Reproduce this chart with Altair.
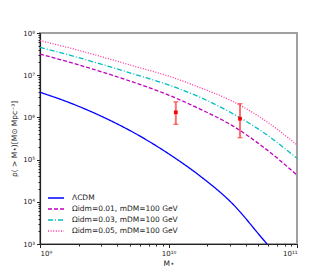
import altair as alt
import pandas as pd

# ---- data ----
models = ["ΛCDM", "Ωidm=0.01, mDM=100 GeV", "Ωidm=0.03, mDM=100 GeV", "Ωidm=0.05, mDM=100 GeV"]
colors = ["#0000ff", "#bf00bf", "#00bfbf", "#ff3399"]
dashes = [[1, 0], [4, 2], [5, 2, 1, 2], [1, 1.6]]

m_lcdm = [1e9, 1.78e9, 3.16e9, 5.62e9, 1e10, 1.78e10, 3.16e10, 5.62e10, 5.85e10]
rho_lcdm = [3.94e6, 2.11e6, 9.9e5, 4.03e5, 1.38e5, 3.98e4, 8.9e3, 1.15e3, 1.0e3]

m_grid = [1e9, 1.78e9, 3.16e9, 5.62e9, 1e10, 1.78e10, 3.16e10, 5.62e10, 1e11]
rho_001 = [3.16e7, 1.95e7, 1.15e7, 6.46e6, 3.39e6, 1.55e6, 6.3e5, 1.86e5, 4.3e4]
rho_003 = [4.57e7, 2.88e7, 1.74e7, 1.02e7, 5.89e6, 2.95e6, 1.23e6, 4.17e5, 1.07e5]
rho_005 = [6.6e7, 4.27e7, 2.63e7, 1.58e7, 9.55e6, 5.0e6, 2.4e6, 8.5e5, 2.24e5]

obs_m = [1.14e10, 3.6e10]
obs_rho = [1.32e6, 9.3e5]
obs_lo = [6.85e5, 3.3e5]
obs_hi = [2.34e6, 2.11e6]

x_major = [1e9, 1e10, 1e11]
x_labels = ["10⁹", "10¹⁰", "10¹¹"]
y_major = [1e3, 1e4, 1e5, 1e6, 1e7, 1e8]
y_labels = ["10³", "10⁴", "10⁵", "10⁶", "10⁷", "10⁸"]
x_minor = [k * d for d in [1e9, 1e10] for k in range(2, 10)]
y_minor = [k * d for d in [1e3, 1e4, 1e5, 1e6, 1e7] for k in range(2, 10)]

# ---- tables ----
rows = []
for m, r in zip(m_lcdm, rho_lcdm):
    rows.append({"M": m, "rho": r, "model": models[0]})
for series, name in zip([rho_001, rho_003, rho_005], models[1:]):
    for m, r in zip(m_grid, series):
        rows.append({"M": m, "rho": r, "model": name})
lines_df = pd.DataFrame(rows)
obs_df = pd.DataFrame({"M": obs_m, "rho": obs_rho, "lo": obs_lo, "hi": obs_hi})

def label_expr(vals, labels):
    expr = "''"
    for v, l in zip(vals[::-1], labels[::-1]):
        expr = f"datum.value == {v!r} ? '{l}' : " + expr
    return expr

def major_test(vals):
    return "indexof([" + ",".join(repr(v) for v in vals) + "], datum.value) >= 0"

xscale = alt.Scale(type="log", domain=[1e9, 1e11], nice=False)
yscale = alt.Scale(type="log", domain=[1e3, 1e8], nice=False)

xaxis = alt.Axis(
    title="M⋆", values=x_major + x_minor, labelExpr=label_expr(x_major, x_labels),
    tickSize={"condition": {"test": major_test(x_major), "value": 3.5}, "value": 2},
    labelOverlap=False, grid=False, titlePadding=3,
)
yaxis = alt.Axis(
    title="ρ( > M⋆)[M⊙ Mpc⁻³]", values=y_major + y_minor, labelExpr=label_expr(y_major, y_labels),
    tickSize={"condition": {"test": major_test(y_major), "value": 3.5}, "value": 2},
    labelOverlap=False, grid=False, titlePadding=4,
)

legend = alt.Legend(
    title=None, orient="none", legendX=10, legendY=159, padding=0,
    symbolType="M-1.6,0H1.6", symbolSize=100, symbolStrokeWidth=1.5,
    labelFontSize=7.5, labelOffset=10, rowPadding=1,
)

lines = alt.Chart(lines_df).mark_line(strokeWidth=1.3, interpolate="monotone", clip=True).encode(
    x=alt.X("M:Q", scale=xscale, axis=xaxis),
    y=alt.Y("rho:Q", scale=yscale, axis=yaxis),
    color=alt.Color("model:N", scale=alt.Scale(domain=models, range=colors), legend=legend),
    strokeDash=alt.StrokeDash("model:N", scale=alt.Scale(domain=models, range=dashes), legend=legend),
)

bars = alt.Chart(obs_df).mark_rule(color="#ff3333", opacity=0.7, strokeWidth=2).encode(
    x=alt.X("M:Q", scale=xscale), y=alt.Y("lo:Q", scale=yscale), y2="hi:Q"
)
cap_lo = alt.Chart(obs_df).mark_tick(color="#ff3333", opacity=0.7, orient="horizontal", size=5, thickness=1.3).encode(
    x=alt.X("M:Q", scale=xscale), y=alt.Y("lo:Q", scale=yscale)
)
cap_hi = alt.Chart(obs_df).mark_tick(color="#ff3333", opacity=0.7, orient="horizontal", size=5, thickness=1.3).encode(
    x=alt.X("M:Q", scale=xscale), y=alt.Y("hi:Q", scale=yscale)
)
pts = alt.Chart(obs_df).mark_square(color="#ff0000", size=14, opacity=1).encode(
    x=alt.X("M:Q", scale=xscale), y=alt.Y("rho:Q", scale=yscale)
)

chart = alt.layer(lines, bars, cap_lo, cap_hi, pts).properties(
    width=257, height=211,
    autosize=alt.AutoSizeParams(type="none"),
    padding={"left": 32, "top": 25, "right": 20, "bottom": 28},
).configure_view(
    stroke="#a0a0a0", strokeWidth=2
).configure_axis(
    labelFont="DejaVu Sans", titleFont="DejaVu Sans", labelFontSize=7, titleFontSize=7.5,
    titleFontWeight="normal", domainColor="#222222", domainWidth=1.2, tickColor="#222222",
    labelColor="#222222", titleColor="#222222", labelPadding=2,
).configure_legend(
    labelFont="DejaVu Sans", labelColor="#222222"
)

chart.save("out.html", embed_options={"renderer": "svg", "actions": False})
